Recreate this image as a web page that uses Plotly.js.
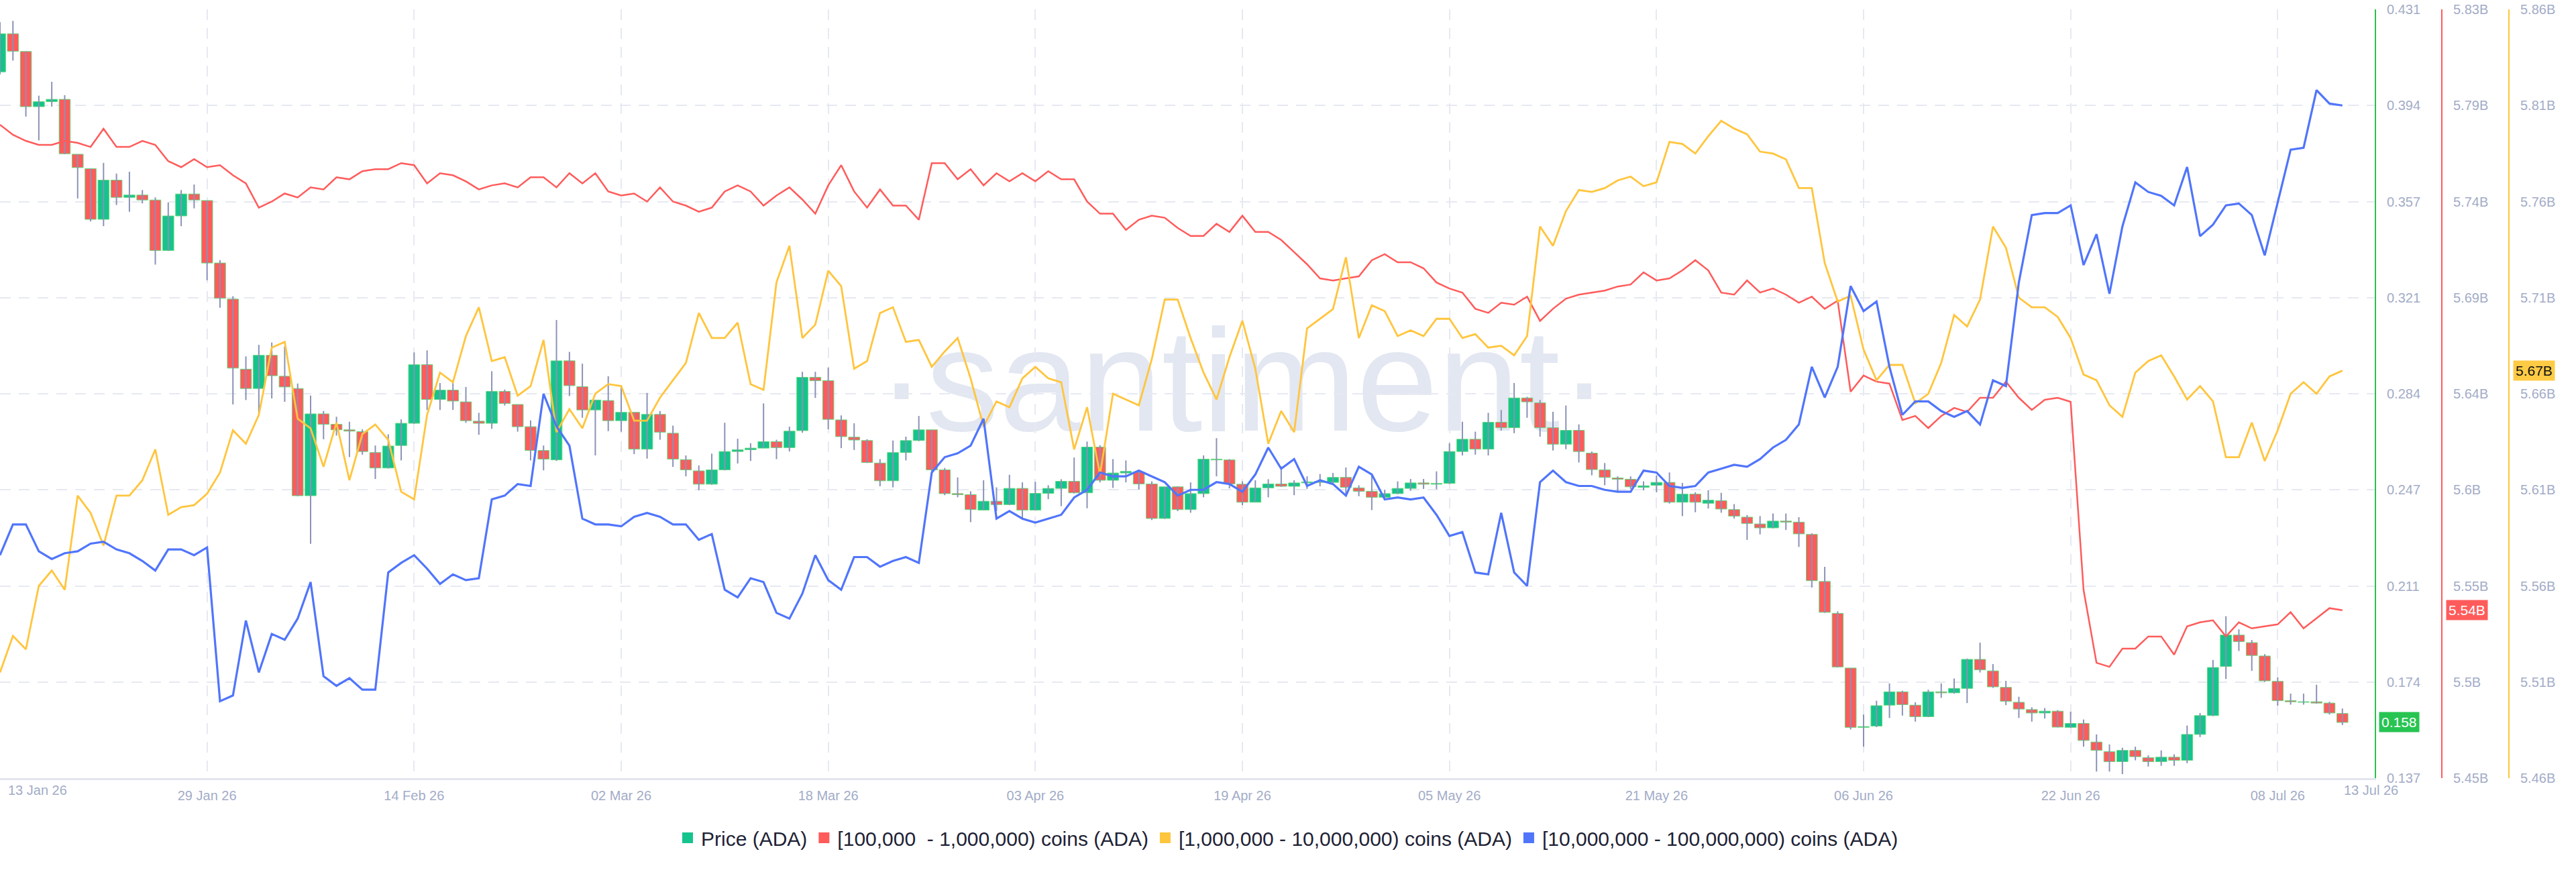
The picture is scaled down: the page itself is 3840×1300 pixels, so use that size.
<!DOCTYPE html>
<html>
<head>
<meta charset="utf-8">
<script src="https://cdn.plot.ly/plotly-3.0.1.min.js"></script>
<style>
  html, body { margin: 0; padding: 0; background: #ffffff; }
  #chart { width: 3840px; height: 1300px; }
</style>
</head>
<body>
<div id="chart"></div>
<script>
// ---------------- DATA ----------------
const startDate = '2026-01-13';
const dayCount = 182;

const priceOpen = [
.4071,.4217,.4149,.3938,.3957,.3966,.3756,.3701,.3507,.3657,
.3591,.3600,.3581,.3388,.3520,.3604,.3579,.3340,.3202,.2934,
.2860,.2987,.2907,.2860,.2450,.2763,.2723,.2702,.2695,.2615,
.2556,.2642,.2727,.2951,.2818,.2854,.2809,.2735,.2727,.2849,
.2799,.2714,.2623,.2587,.2966,.2867,.2778,.2814,.2737,.2769,
.2628,.2761,.2689,.2588,.2545,.2494,.2549,.2619,.2626,.2632,
.2657,.2634,.2699,.2903,.2890,.2740,.2674,.2661,.2575,.2507,
.2615,.2661,.2702,.2549,.2458,.2454,.2395,.2429,.2416,.2478,
.2395,.2459,.2478,.2505,.2461,.2636,.2509,.2537,.2541,.2495,
.2363,.2484,.2397,.2458,.2590,.2587,.2494,.2425,.2480,.2495,
.2486,.2499,.2501,.2501,.2520,.2480,.2467,.2444,.2458,.2478,
.2499,.2494,.2497,.2619,.2666,.2628,.2731,.2710,.2824,.2805,
.2710,.2647,.2700,.2613,.2549,.2518,.2513,.2482,.2490,.2501,
.2425,.2456,.2421,.2431,.2397,.2368,.2342,.2327,.2353,.2349,
.2302,.2122,.2000,.1791,.1564,.1569,.1649,.1700,.1649,.1605,
.1700,.1696,.1713,.1824,.1780,.1717,.1660,.1632,.1619,.1626,
.1564,.1579,.1508,.1471,.1433,.1476,.1448,.1433,.1450,.1438,
.1537,.1609,.1797,.1917,.1888,.1837,.1740,.1666,.1660,.1662,
.1657,.1617];

const priceHigh = [
.4261,.4266,.4150,.3980,.4033,.3982,.3756,.3701,.3723,.3682,
.3689,.3619,.3591,.3572,.3619,.3640,.3579,.3351,.3213,.2983,
.3027,.3036,.3021,.2879,.2833,.2774,.2752,.2733,.2704,.2642,
.2685,.2742,.2998,.3006,.2881,.2881,.2866,.2767,.2926,.2856,
.2799,.2738,.2642,.3122,.3000,.2955,.2816,.2907,.2873,.2769,
.2843,.2774,.2718,.2604,.2566,.2611,.2729,.2668,.2651,.2803,
.2664,.2714,.2924,.2924,.2940,.2757,.2727,.2666,.2590,.2661,
.2676,.2755,.2702,.2556,.2520,.2467,.2509,.2482,.2530,.2501,
.2503,.2490,.2513,.2596,.2657,.2643,.2590,.2585,.2547,.2505,
.2484,.2486,.2501,.2604,.2670,.2590,.2505,.2509,.2513,.2562,
.2509,.2524,.2533,.2537,.2558,.2490,.2528,.2473,.2505,.2514,
.2514,.2543,.2651,.2733,.2695,.2767,.2778,.2881,.2828,.2816,
.2771,.2795,.2723,.2619,.2575,.2524,.2524,.2505,.2528,.2539,
.2499,.2463,.2471,.2461,.2418,.2376,.2372,.2382,.2382,.2368,
.2306,.2178,.2008,.1791,.1613,.1666,.1732,.1704,.1660,.1708,
.1732,.1751,.1827,.1888,.1806,.1742,.1681,.1641,.1638,.1630,
.1624,.1594,.1537,.1499,.1486,.1490,.1457,.1476,.1461,.1571,
.1619,.1822,.1989,.1939,.1898,.1844,.1755,.1693,.1693,.1727,
.1662,.1636];

const priceLow = [
.4061,.4114,.3900,.3809,.3938,.3756,.3587,.3499,.3481,.3562,
.3536,.3568,.3334,.3386,.3481,.3549,.3274,.3169,.2799,.2816,
.2761,.2822,.2809,.2448,.2266,.2666,.2680,.2598,.2607,.2514,
.2554,.2585,.2725,.2778,.2778,.2778,.2729,.2683,.2706,.2795,
.2695,.2585,.2547,.2583,.2831,.2748,.2604,.2697,.2695,.2609,
.2592,.2664,.2560,.2524,.2471,.2492,.2547,.2573,.2583,.2632,
.2590,.2619,.2691,.2824,.2704,.2632,.2625,.2575,.2486,.2482,
.2585,.2659,.2543,.2452,.2444,.2349,.2395,.2391,.2414,.2359,
.2393,.2437,.2410,.2459,.2402,.2501,.2480,.2501,.2473,.2357,
.2361,.2391,.2385,.2444,.2524,.2478,.2414,.2425,.2444,.2484,
.2452,.2476,.2486,.2499,.2448,.2448,.2395,.2442,.2456,.2469,
.2476,.2475,.2495,.2604,.2607,.2604,.2699,.2689,.2748,.2676,
.2623,.2628,.2577,.2528,.2490,.2467,.2476,.2471,.2463,.2420,
.2372,.2387,.2401,.2385,.2363,.2281,.2302,.2325,.2319,.2254,
.2099,.2002,.1793,.1556,.1490,.1565,.1600,.1609,.1586,.1603,
.1677,.1693,.1657,.1774,.1715,.1649,.1600,.1586,.1598,.1564,
.1562,.1490,.1395,.1395,.1385,.1438,.1414,.1417,.1417,.1427,
.1527,.1607,.1749,.1856,.1780,.1738,.1647,.1651,.1651,.1655,
.1613,.1573];

const priceClose = [
.4217,.4150,.3938,.3957,.3966,.3758,.3705,.3507,.3657,.3591,
.3600,.3581,.3388,.3520,.3604,.3581,.3340,.3205,.2938,.2860,
.2987,.2909,.2866,.2450,.2763,.2723,.2702,.2697,.2619,.2556,
.2640,.2727,.2951,.2818,.2854,.2812,.2737,.2727,.2849,.2803,
.2714,.2623,.2590,.2966,.2871,.2778,.2816,.2737,.2769,.2628,
.2761,.2693,.2590,.2549,.2494,.2549,.2619,.2626,.2632,.2657,
.2634,.2697,.2903,.2890,.2742,.2676,.2663,.2577,.2507,.2615,
.2661,.2702,.2549,.2458,.2454,.2397,.2429,.2416,.2478,.2395,
.2459,.2478,.2505,.2461,.2636,.2509,.2537,.2543,.2495,.2363,
.2484,.2397,.2458,.2590,.2587,.2495,.2425,.2480,.2495,.2486,
.2499,.2503,.2505,.2520,.2482,.2467,.2444,.2458,.2478,.2499,
.2494,.2497,.2619,.2666,.2628,.2731,.2710,.2824,.2809,.2710,
.2647,.2700,.2619,.2550,.2520,.2513,.2484,.2488,.2501,.2425,
.2456,.2425,.2433,.2399,.2372,.2344,.2327,.2353,.2349,.2304,
.2125,.2004,.1795,.1564,.1567,.1647,.1700,.1651,.1605,.1700,
.1696,.1713,.1824,.1784,.1719,.1664,.1634,.1619,.1626,.1565,
.1579,.1514,.1476,.1433,.1476,.1452,.1433,.1450,.1438,.1537,
.1609,.1793,.1917,.1892,.1839,.1742,.1666,.1662,.1662,.1657,
.1619,.1583];

// [100,000 - 1,000,000) coins, billions
const holders100k = [
5.777,5.772,5.769,5.767,5.767,5.769,5.768,5.766,5.775,5.766,
5.766,5.769,5.767,5.759,5.756,5.760,5.756,5.757,5.752,5.748,
5.736,5.739,5.743,5.741,5.746,5.745,5.751,5.750,5.754,5.755,
5.755,5.758,5.757,5.748,5.753,5.752,5.749,5.745,5.747,5.748,
5.746,5.751,5.751,5.746,5.753,5.748,5.753,5.744,5.742,5.743,
5.739,5.746,5.739,5.737,5.734,5.736,5.744,5.747,5.744,5.737,
5.742,5.746,5.740,5.733,5.747,5.757,5.744,5.736,5.745,5.737,
5.737,5.730,5.758,5.758,5.750,5.755,5.747,5.753,5.749,5.753,
5.749,5.754,5.750,5.750,5.739,5.733,5.733,5.725,5.730,5.732,
5.731,5.726,5.722,5.722,5.728,5.724,5.732,5.724,5.724,5.720,
5.714,5.708,5.701,5.700,5.701,5.702,5.710,5.713,5.709,5.709,
5.706,5.699,5.696,5.694,5.686,5.684,5.689,5.688,5.692,5.680,
5.686,5.691,5.693,5.694,5.695,5.697,5.698,5.704,5.700,5.701,
5.705,5.710,5.705,5.694,5.693,5.700,5.694,5.696,5.693,5.689,
5.692,5.686,5.690,5.645,5.653,5.650,5.649,5.631,5.633,5.627,
5.633,5.637,5.635,5.642,5.642,5.650,5.642,5.636,5.641,5.642,
5.640,5.547,5.511,5.509,5.518,5.518,5.524,5.524,5.515,5.529,
5.531,5.532,5.524,5.531,5.528,5.529,5.530,5.536,5.528,5.533,
5.538,5.537];

// [1,000,000 - 10,000,000) coins, billions
const holders1m = [
5.515,5.534,5.527,5.560,5.568,5.558,5.607,5.598,5.581,5.607,
5.607,5.615,5.631,5.597,5.601,5.602,5.608,5.619,5.641,5.634,
5.649,5.684,5.687,5.647,5.642,5.622,5.645,5.615,5.639,5.644,
5.636,5.609,5.605,5.649,5.671,5.666,5.690,5.705,5.677,5.679,
5.659,5.664,5.688,5.640,5.652,5.642,5.660,5.665,5.664,5.646,
5.646,5.658,5.667,5.676,5.702,5.689,5.689,5.697,5.665,5.662,
5.718,5.737,5.689,5.696,5.724,5.716,5.673,5.677,5.702,5.705,
5.687,5.688,5.674,5.682,5.689,5.668,5.643,5.656,5.653,5.668,
5.674,5.668,5.666,5.631,5.653,5.618,5.660,5.657,5.654,5.678,
5.709,5.709,5.689,5.671,5.657,5.679,5.698,5.673,5.634,5.651,
5.640,5.694,5.699,5.704,5.731,5.689,5.706,5.703,5.690,5.693,
5.690,5.699,5.699,5.689,5.691,5.684,5.685,5.680,5.690,5.747,
5.737,5.755,5.766,5.765,5.767,5.771,5.773,5.768,5.770,5.791,
5.790,5.785,5.794,5.802,5.798,5.795,5.786,5.785,5.782,5.767,
5.767,5.728,5.708,5.711,5.683,5.667,5.675,5.675,5.655,5.660,
5.676,5.701,5.695,5.709,5.747,5.736,5.710,5.705,5.705,5.700,
5.689,5.670,5.667,5.654,5.648,5.671,5.677,5.680,5.669,5.657,
5.664,5.656,5.627,5.627,5.645,5.625,5.641,5.660,5.666,5.660,
5.669,5.672];

// [10,000,000 - 100,000,000) coins, billions (no visible axis in the reference)
const holders10m = [
9.116,9.132,9.132,9.118,9.114,9.117,9.118,9.122,9.123,9.119,
9.117,9.113,9.108,9.119,9.119,9.116,9.120,9.040,9.043,9.082,
9.055,9.075,9.072,9.083,9.102,9.053,9.048,9.052,9.046,9.046,
9.107,9.112,9.116,9.109,9.101,9.106,9.103,9.104,9.145,9.147,
9.153,9.152,9.200,9.183,9.173,9.135,9.132,9.132,9.131,9.136,
9.138,9.136,9.132,9.132,9.124,9.127,9.098,9.094,9.104,9.102,
9.086,9.083,9.096,9.116,9.103,9.098,9.115,9.115,9.110,9.113,
9.115,9.112,9.159,9.167,9.169,9.173,9.187,9.135,9.139,9.135,
9.133,9.135,9.137,9.146,9.150,9.159,9.157,9.157,9.160,9.157,
9.154,9.147,9.150,9.150,9.154,9.153,9.149,9.158,9.172,9.161,
9.166,9.152,9.155,9.153,9.147,9.162,9.158,9.145,9.146,9.145,
9.146,9.137,9.126,9.128,9.107,9.106,9.138,9.107,9.100,9.154,
9.160,9.154,9.152,9.152,9.150,9.149,9.149,9.160,9.159,9.152,
9.151,9.152,9.159,9.161,9.163,9.162,9.166,9.172,9.176,9.184,
9.214,9.198,9.214,9.256,9.243,9.248,9.214,9.189,9.196,9.196,
9.191,9.188,9.191,9.184,9.207,9.204,9.258,9.293,9.294,9.294,
9.298,9.267,9.283,9.252,9.287,9.310,9.305,9.303,9.298,9.318,
9.282,9.288,9.298,9.299,9.293,9.272,9.299,9.327,9.328,9.358,
9.351,9.350];

const seriesNames = ['Price (ADA)', '[100,000  - 1,000,000) coins (ADA)', '[1,000,000 - 10,000,000) coins (ADA)', '[10,000,000 - 100,000,000) coins (ADA)'];

const xTickDates  = ['2026-01-13','2026-01-29','2026-02-14','2026-03-02','2026-03-18','2026-04-03','2026-04-19','2026-05-05','2026-05-21','2026-06-06','2026-06-22','2026-07-08'];
const xTickLabels = ['','29 Jan 26','14 Feb 26','02 Mar 26','18 Mar 26','03 Apr 26','19 Apr 26','05 May 26','21 May 26','06 Jun 26','22 Jun 26','08 Jul 26'];
const xEdgeLabels = ['13 Jan 26','13 Jul 26'];

const priceTickLabels = ['0.137','0.174','0.211','0.247','0.284','0.321','0.357','0.394','0.431'];
const redTickLabels   = ['5.45B','5.5B','5.55B','5.6B','5.64B','5.69B','5.74B','5.79B','5.83B'];
const yellowTickLabels= ['5.46B','5.51B','5.56B','5.61B','5.66B','5.71B','5.76B','5.81B','5.86B'];

// ---------------- STYLE ----------------
const C = {
  green: '#14c48c', red: '#ff5b5b', yellow: '#ffc53d', blue: '#5075fb',
  greenAxis: '#2dbd4f', wick: '#8a92b6', outline: '#62d87c',
  grid: '#e6e9f2', tick: '#a3acc7', text: '#1e2235'
};
const FONT = 'Liberation Sans, Arial, Helvetica, sans-serif';
const W = 3840, H = 1300;
const plotRight = 3540 / W;
const redPos = 3640 / W, yellowPos = 3740 / W;
const priceRange = [0.137, 0.431], redRange = [5.454, 5.834], yellowRange = [5.46, 5.86], blueRange = [9.0, 9.4];

function evenTicks(r, n) { const a = []; for (let i = 0; i < n; i++) a.push(r[0] + (r[1] - r[0]) * i / (n - 1)); return a; }

const dates = [];
for (let i = 0; i < dayCount; i++) {
  const d = new Date(Date.UTC(2026, 0, 13 + i));
  dates.push(d.toISOString().slice(0, 10));
}

// wicks
const wx = [], wy = [];
for (let i = 0; i < dayCount; i++) {
  wx.push(dates[i], dates[i], null);
  wy.push(priceLow[i], priceHigh[i], null);
}
const bodyBase = priceOpen.map((o, i) => Math.min(o, priceClose[i]));
const bodyLen = priceOpen.map((o, i) => Math.abs(priceClose[i] - o));
const bodyColor = priceOpen.map((o, i) => priceClose[i] >= o ? C.green : C.red);

const traces = [
  { type: 'scatter', mode: 'lines', x: wx, y: wy, xaxis: 'x', yaxis: 'y',
    line: { color: C.wick, width: 2 }, showlegend: false, hoverinfo: 'skip' },
  { type: 'bar', x: dates, y: bodyLen, base: bodyBase, xaxis: 'x', yaxis: 'y',
    width: 0.86 * 86400000,
    marker: { color: bodyColor, line: { color: C.outline, width: 1 } },
    showlegend: false, hoverinfo: 'skip' },
  { type: 'scatter', mode: 'lines', x: dates, y: holders100k, xaxis: 'x', yaxis: 'y2',
    line: { color: C.red, width: 2.5 }, showlegend: false, hoverinfo: 'skip' },
  { type: 'scatter', mode: 'lines', x: dates, y: holders1m, xaxis: 'x', yaxis: 'y3',
    line: { color: C.yellow, width: 2.8 }, showlegend: false, hoverinfo: 'skip' },
  { type: 'scatter', mode: 'lines', x: dates, y: holders10m, xaxis: 'x', yaxis: 'y4',
    line: { color: C.blue, width: 3.2 }, showlegend: false, hoverinfo: 'skip' }
];
[C.green, C.red, C.yellow, C.blue].forEach((col, k) => {
  traces.push({ type: 'scatter', mode: 'markers', x: [null], y: [null], xaxis: 'x', yaxis: 'y',
    name: seriesNames[k], marker: { symbol: 'square', size: 17, color: col }, showlegend: true });
});

const gridStyle = { showgrid: true, gridcolor: C.grid, gridwidth: 2, griddash: '16px,12px' };
const tickFont = { family: FONT, size: 20, color: C.tick };

const n = dayCount - 1;
const layout = {
  width: W, height: H,
  margin: { l: 0, r: 0, t: 14, b: 140, pad: 0 },
  paper_bgcolor: '#ffffff', plot_bgcolor: '#ffffff',
  hovermode: false,
  showlegend: true,
  legend: { orientation: 'h', xref: 'container', yref: 'container', x: 0.5, xanchor: 'center',
            y: 1 - 1249 / H, yanchor: 'middle', font: { family: FONT, size: 30, color: C.text },
            bgcolor: 'rgba(0,0,0,0)' },
  xaxis: Object.assign({ type: 'date', domain: [0, plotRight], range: ['2026-01-13', '2026-07-15 12:00'],
           tickmode: 'array', tickvals: xTickDates, ticktext: xTickLabels,
           showline: true, linecolor: '#e3e6f0', linewidth: 3, ticks: '', zeroline: false,
           tickfont: tickFont, ticklabelstandoff: 6, fixedrange: true }, gridStyle),
  yaxis: Object.assign({ range: priceRange, side: 'right', anchor: 'x',
           tickmode: 'array', tickvals: evenTicks(priceRange, 9), ticktext: priceTickLabels,
           showline: true, linecolor: C.greenAxis, linewidth: 2, ticks: '', zeroline: false,
           tickfont: tickFont, ticklabelstandoff: 12, fixedrange: true }, gridStyle),
  yaxis2: { overlaying: 'y', side: 'right', anchor: 'free', position: redPos, range: redRange,
           tickmode: 'array', tickvals: evenTicks(redRange, 9), ticktext: redTickLabels,
           showgrid: false, showline: true, linecolor: C.red, linewidth: 2, ticks: '', zeroline: false,
           tickfont: tickFont, ticklabelstandoff: 12, fixedrange: true },
  yaxis3: { overlaying: 'y', side: 'right', anchor: 'free', position: yellowPos, range: yellowRange,
           tickmode: 'array', tickvals: evenTicks(yellowRange, 9), ticktext: yellowTickLabels,
           showgrid: false, showline: true, linecolor: C.yellow, linewidth: 2, ticks: '', zeroline: false,
           tickfont: tickFont, ticklabelstandoff: 12, fixedrange: true },
  yaxis4: { overlaying: 'y', range: blueRange, visible: false, fixedrange: true },
  shapes: [
    { type: 'rect', xref: 'paper', yref: 'paper', x0: 0.302, x1: 0.663, y0: 0.422, y1: 0.651,
      line: { width: 0 }, fillcolor: 'rgba(0,0,0,0)', layer: 'below',
      label: { text: '·santiment·', textposition: 'middle center',
               font: { family: 'Liberation Sans, Arial, sans-serif', size: 218, color: '#e3e7f1' } } }
  ],
  annotations: [
    { xref: 'x', yref: 'paper', x: dates[0], y: 0, xanchor: 'left', yanchor: 'middle', xshift: 10, yshift: -18,
      text: xEdgeLabels[0], showarrow: false, font: tickFont },
    { xref: 'x', yref: 'paper', x: dates[n], y: 0, xanchor: 'left', yanchor: 'middle', xshift: 0, yshift: -18,
      text: xEdgeLabels[1], showarrow: false, font: tickFont },
    { xref: 'paper', yref: 'y', x: plotRight, y: priceClose[n], xanchor: 'left', yanchor: 'middle', xshift: 6,
      text: priceClose[n].toFixed(3), showarrow: false, bgcolor: '#27c452', borderpad: 3,
      font: { family: FONT, size: 21, color: '#ffffff' } },
    { xref: 'paper', yref: 'y2', x: redPos, y: holders100k[n], xanchor: 'left', yanchor: 'middle', xshift: 6,
      text: holders100k[n].toFixed(2) + 'B', showarrow: false, bgcolor: C.red, borderpad: 3,
      font: { family: FONT, size: 21, color: '#ffffff' } },
    { xref: 'paper', yref: 'y3', x: yellowPos, y: holders1m[n], xanchor: 'left', yanchor: 'middle', xshift: 6,
      text: holders1m[n].toFixed(2) + 'B', showarrow: false, bgcolor: '#ffcb45', borderpad: 3,
      font: { family: FONT, size: 21, color: '#111111' } }
  ]
};

Plotly.newPlot('chart', traces, layout, { staticPlot: true, displayModeBar: false });
</script>
</body>
</html>
